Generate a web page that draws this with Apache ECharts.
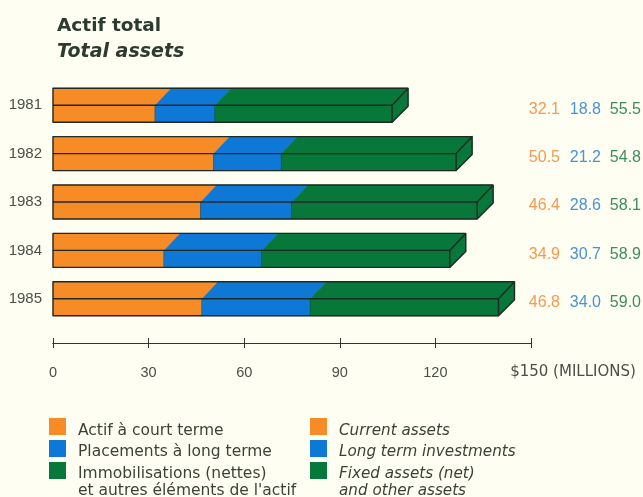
<!DOCTYPE html>
<html><head><meta charset="utf-8">
<style>html,body{margin:0;padding:0;background:#fffef2}#c{width:643px;height:497px}</style>
<script src="https://cdn.jsdelivr.net/npm/echarts@6/dist/echarts.min.js"></script>
</head><body><div id="c"></div>
<script>
const years = ['1981','1982','1983','1984','1985'];
const currentAssets = [32.1,50.5,46.4,34.9,46.8];
const longTermInvestments = [18.8,21.2,28.6,30.7,34.0];
const fixedAssets = [55.5,54.8,58.1,58.9,59.0];
const tickValues = [0,30,60,90,120,150];
const colors = ['#f78b26','#0d78d6','#07773a'];
const valueColors = ['#f59a52','#4793d6','#3e8d5a'];
const inkColor = '#1f2a24';
const legendFr = [['Actif à court terme'],['Placements à long terme'],['Immobilisations (nettes)','et autres éléments de l\'actif']];
const legendEn = [['Current assets'],['Long term investments'],['Fixed assets (net)','and other assets']];

const font = '"DejaVu Sans", sans-serif';
const DEPTH_X = 16, HALF = 17;
const valueCols = [560, 601, 641];

function renderRow(params, api){
  const i = api.value(0);
  const vals = [currentAssets[i], longTermInvestments[i], fixedAssets[i]];
  const cy = api.coord([0,i])[1];
  const top = cy-HALF, bot = cy+HALF;
  const x0 = api.coord([0,i])[0];
  const ln = {stroke:inkColor, lineWidth:1.4, lineJoin:'round'};
  const ch = [];
  let acc = 0;
  vals.forEach((v,k)=>{
    const a = api.coord([acc,i])[0];
    const b = api.coord([acc+v,i])[0];
    const ta = k===0 ? a : a+DEPTH_X;
    ch.push({type:'polygon',shape:{points:[[ta,top],[b+DEPTH_X,top],[b,cy],[a,cy]]},style:{fill:colors[k],stroke:colors[k],lineWidth:0.5}});
    ch.push({type:'rect',shape:{x:a,y:cy,width:b-a,height:HALF},style:{fill:colors[k],stroke:colors[k],lineWidth:0.5}});
    acc += v;
    if(k<2) ch.push({type:'line',shape:{x1:b,y1:bot,x2:b,y2:cy},style:{stroke:inkColor,lineWidth:1.1}});
    ch.push({type:'text',style:{text:v.toFixed(1),x:valueCols[k],y:cy+4,align:'right',verticalAlign:'middle',fill:valueColors[k],font:'16px "Liberation Sans", Arial, sans-serif'}});
  });
  const xe = api.coord([acc,i])[0];
  ch.push({type:'polygon',shape:{points:[[xe,cy],[xe+DEPTH_X,top],[xe+DEPTH_X,cy+1],[xe,bot]]},style:{fill:colors[2],stroke:colors[2],lineWidth:0.5}});
  ch.push({type:'polyline',shape:{points:[[xe,cy],[xe+DEPTH_X,top],[xe+DEPTH_X,cy+1],[xe,bot],[x0,bot],[x0,top],[xe+DEPTH_X,top]]},style:Object.assign({fill:'none'},ln)});
  ch.push({type:'line',shape:{x1:x0,y1:cy,x2:xe,y2:cy},style:ln});
  ch.push({type:'line',shape:{x1:xe,y1:cy,x2:xe,y2:bot},style:ln});
  return {type:'group',children:ch};
}

const graphics = [
  {type:'text',style:{text:'Actif total',x:57,y:26,verticalAlign:'middle',fill:'#2c3a30',font:'bold 18.5px "DejaVu Sans", sans-serif'}},
  {type:'text',style:{text:'Total assets',x:57,y:52,verticalAlign:'middle',fill:'#2c3a30',font:'italic bold 19px "DejaVu Sans", sans-serif'}}
];
const rowY = [418,440,462];
const lineY = [431,452,474];
function addLegend(items, sx, tx, style, size){
  items.forEach((lines,k)=>{
    graphics.push({type:'rect',shape:{x:sx,y:rowY[k],width:17,height:17},style:{fill:colors[k]}});
    lines.forEach((t,j)=>graphics.push({type:'text',style:{text:t,x:tx,y:lineY[k]+j*17,verticalAlign:'middle',fill:'#3a4238',font:style+' '+size+'px '+font}}));
  });
}
addLegend(legendFr,49,78,'normal',15.5);
addLegend(legendEn,310,339,'italic',15.2);

const axisBase = {type:'value',min:0,max:150,interval:30,position:'bottom',offset:20,splitLine:{show:false},
  axisLine:{show:true,lineStyle:{color:'#333',width:1}}};

const chart = echarts.init(document.getElementById('c'),null,{renderer:'canvas'});
chart.setOption({
  animation:false,
  backgroundColor:'#fffef2',
  textStyle:{fontFamily:'"Liberation Sans", Arial, sans-serif'},
  grid:{left:53,top:81,width:478,height:242,containLabel:false},
  xAxis:[
    Object.assign({},axisBase,{
      axisTick:{show:true,length:5,lineStyle:{color:'#333'},inside:false},
      axisLabel:{show:true,margin:22,color:'#4a4f48',fontSize:14.5,showMinLabel:true,showMaxLabel:true,
        formatter:v=> v===150 ? '{m|$150 (MILLIONS)}' : String(tickValues[tickValues.indexOf(v)]),
        rich:{m:{fontSize:15,fontFamily:'"DejaVu Sans", sans-serif',color:'#4a4f48',padding:[0,0,0,84]}}}
    }),
    Object.assign({},axisBase,{
      axisTick:{show:true,length:5,inside:true,lineStyle:{color:'#333'}},
      axisLabel:{show:false}
    })
  ],
  yAxis:{type:'category',data:years,inverse:true,
    axisLine:{show:false},axisTick:{show:false},
    axisLabel:{color:'#4a4f48',fontSize:15,margin:11,padding:[4,0,0,0]}},
  series:[{type:'custom',xAxisIndex:0,renderItem:renderRow,clip:false,
    data:years.map((y,i)=>[i]),encode:{y:0}}],
  graphic:graphics
});
</script></body></html>
